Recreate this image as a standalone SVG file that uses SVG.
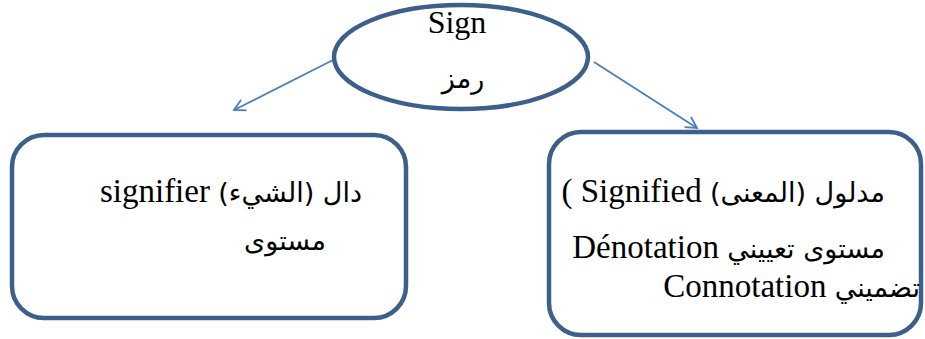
<svg xmlns="http://www.w3.org/2000/svg" width="925" height="339" viewBox="0 0 925 339">
<defs>
<style>
.shape{fill:#ffffff;stroke:#3c5f8c;stroke-width:4.5}
.conn{fill:none;stroke:#4a7ebb;stroke-width:1.8}
.t{font-family:"Liberation Serif",serif;font-size:32px;fill:#000}
.ar{font-family:"DejaVu Sans",sans-serif;font-size:27px}
.la{font-family:"Liberation Serif",serif;font-size:33px}
</style>
<marker id="arr" markerWidth="14" markerHeight="14" refX="12" refY="7" orient="auto" markerUnits="userSpaceOnUse">
<path d="M1,1 L12,7 L1,13" fill="none" stroke="#4a7ebb" stroke-width="1.8"/>
</marker>
</defs>
<rect width="925" height="339" fill="#ffffff"/>
<g id="connectors">
<line class="conn" x1="333" y1="60" x2="234" y2="110" marker-end="url(#arr)"/>
<line class="conn" x1="594" y1="62" x2="697" y2="128" marker-end="url(#arr)"/>
</g>
<g id="sign">
<ellipse class="shape" cx="461" cy="57" rx="127" ry="52"/>
<text class="t" x="457" y="33" text-anchor="middle">Sign</text>
<text class="t ar" x="463" y="88" text-anchor="middle">رمز</text>
</g>
<g id="signifier">
<rect class="shape" x="12" y="135" width="394" height="183" rx="32" ry="32"/>
<text class="t" x="362" y="202" direction="rtl" text-anchor="start"><tspan class="ar">دال (الشيء)</tspan><tspan class="la"> signifier</tspan></text>
<text class="t ar" x="285" y="250" text-anchor="middle">مستوى</text>
</g>
<g id="signified">
<rect class="shape" x="549" y="132" width="372" height="203" rx="32" ry="32"/>
<text class="t" x="885" y="202" direction="rtl" text-anchor="start"><tspan class="ar">مدلول (المعنى)</tspan><tspan class="la"> Signified )</tspan></text>
<text class="t" x="885" y="258" direction="rtl" text-anchor="start"><tspan class="ar">مستوى تعييني</tspan><tspan class="la"> Dénotation</tspan></text>
<text class="t" x="920" y="297" direction="rtl" text-anchor="start"><tspan class="ar">تضميني</tspan><tspan class="la"> Connotation</tspan></text>
</g>
</svg>
